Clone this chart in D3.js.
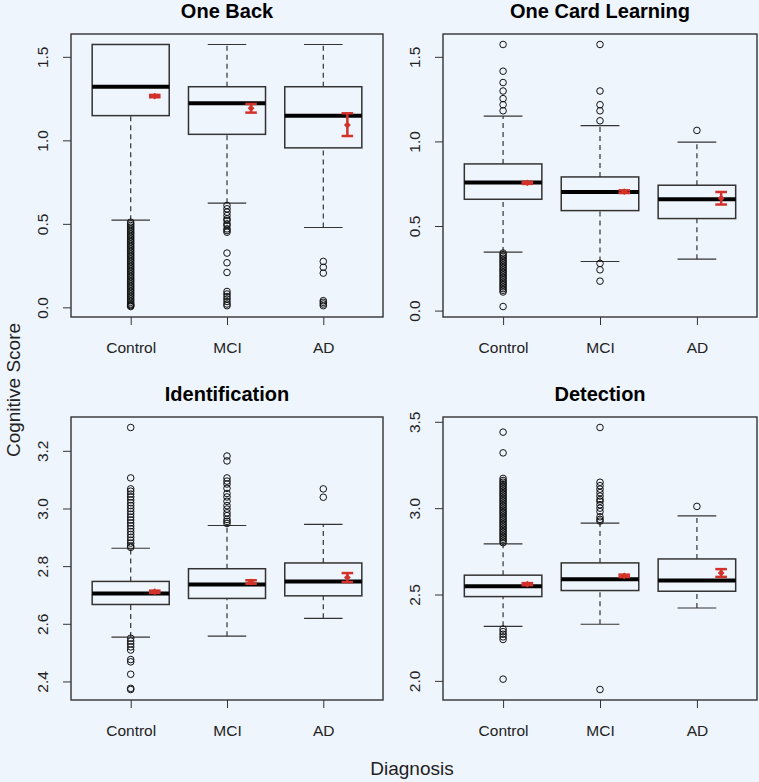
<!DOCTYPE html>
<html>
<head>
<meta charset="utf-8">
<script src="https://cdn.jsdelivr.net/npm/d3@7"></script>
<style>
  body { margin: 0; background: #eff5fd; }
  svg { display: block; font-family: "Liberation Sans", Arial, sans-serif; }
</style>
</head>
<body>
<svg id="chart" width="759" height="782"></svg>
<script>
// ---- data ----
const categories = ["Control", "MCI", "AD"];
const panelTitles = ["One Back", "One Card Learning", "Identification", "Detection"];

// five numbers per group: lower whisker, Q1, median, Q3, upper whisker
const oneBackStats = [[0.522, 1.148, 1.321, 1.574, 1.574], [0.624, 1.036, 1.222, 1.321, 1.574], [0.478, 0.955, 1.148, 1.321, 1.574]];
const oneBackMeans = [1.265, 1.192, 1.092];
const oneBackCI = [[1.258, 1.272], [1.166, 1.218], [1.026, 1.162]];
const oneBackOutliers = [
  [0.005, 0.01, 0.015, 0.02, 0.03, 0.04, 0.05, 0.06, 0.07, 0.08, 0.09, 0.10, 0.11, 0.12, 0.13, 0.14, 0.15, 0.16, 0.17, 0.18,
   0.19, 0.20, 0.21, 0.22, 0.23, 0.24, 0.25, 0.26, 0.27, 0.28, 0.29, 0.30, 0.31, 0.32, 0.33, 0.34, 0.35, 0.36, 0.37, 0.38,
   0.39, 0.40, 0.41, 0.42, 0.43, 0.44, 0.45, 0.46, 0.47, 0.48, 0.49, 0.50, 0.51],
  [0.61, 0.59, 0.57, 0.55, 0.53, 0.52, 0.50, 0.49, 0.47, 0.46, 0.45, 0.325, 0.267, 0.209, 0.095, 0.08, 0.065, 0.05, 0.035, 0.02, 0.01],
  [0.275, 0.24, 0.205, 0.04, 0.03, 0.02, 0.01]
];

const cardStats = [[0.346, 0.658, 0.757, 0.867, 1.150], [0.290, 0.591, 0.701, 0.790, 1.093], [0.304, 0.544, 0.658, 0.741, 0.996]];
const cardMeans = [0.755, 0.703, 0.664];
const cardCI = [[0.749, 0.761], [0.695, 0.711], [0.627, 0.701]];
const cardOutliers = [
  [1.573, 1.415, 1.348, 1.298, 1.253, 1.217, 1.181, 0.34, 0.33, 0.32, 0.31, 0.30, 0.29, 0.28, 0.27, 0.26, 0.25, 0.24, 0.23,
   0.22, 0.21, 0.20, 0.19, 0.18, 0.17, 0.16, 0.15, 0.14, 0.13, 0.12, 0.11, 0.024],
  [1.573, 1.298, 1.217, 1.181, 1.122, 0.279, 0.241, 0.174],
  [1.065]
];

const identStats = [[2.554, 2.667, 2.705, 2.747, 2.862], [2.557, 2.688, 2.736, 2.791, 2.941], [2.619, 2.697, 2.747, 2.811, 2.945]];
const identMeans = [2.711, 2.745, 2.761];
const identCI = [[2.707, 2.715], [2.739, 2.751], [2.745, 2.776]];
const identOutliers = [
  [3.281, 3.106, 3.068, 3.06, 3.05, 3.04, 3.03, 3.02, 3.01, 3.00, 2.99, 2.98, 2.97, 2.96, 2.95, 2.94, 2.93, 2.92, 2.91, 2.90,
   2.89, 2.88, 2.87, 2.865, 2.550, 2.54, 2.53, 2.52, 2.509, 2.476, 2.468, 2.425, 2.376, 2.372],
  [3.182, 3.165, 3.106, 3.095, 3.085, 3.07, 3.052, 3.04, 3.025, 3.01, 2.998, 2.985, 2.975, 2.962, 2.955, 2.948],
  [3.068, 3.039]
];

const detectStats = [[2.316, 2.488, 2.548, 2.612, 2.793], [2.328, 2.523, 2.589, 2.683, 2.913], [2.422, 2.519, 2.581, 2.706, 2.955]];
const detectMeans = [2.560, 2.608, 2.625];
const detectCI = [[2.554, 2.566], [2.601, 2.615], [2.602, 2.647]];
const detectOutliers = [
  [3.440, 3.320, 3.172, 3.16, 3.15, 3.14, 3.13, 3.12, 3.11, 3.10, 3.09, 3.08, 3.07, 3.06, 3.05, 3.04, 3.03, 3.02, 3.01, 3.00,
   2.99, 2.98, 2.97, 2.96, 2.95, 2.94, 2.93, 2.92, 2.91, 2.90, 2.89, 2.88, 2.87, 2.86, 2.85, 2.84, 2.83, 2.82, 2.81, 2.80,
   2.30, 2.285, 2.27, 2.255, 2.24, 2.010],
  [3.467, 3.15, 3.13, 3.11, 3.09, 3.07, 3.05, 3.04, 3.02, 3.00, 2.98, 2.95, 2.935, 2.925, 1.950],
  [3.010]
];

const yTicks = [[0, 0.5, 1.0, 1.5], [0, 0.5, 1.0, 1.5], [2.4, 2.6, 2.8, 3.0, 3.2], [2.0, 2.5, 3.0, 3.5]];

const panels = [
  { title: panelTitles[0], stats: oneBackStats, means: oneBackMeans, ci: oneBackCI, out: oneBackOutliers, ticks: yTicks[0] },
  { title: panelTitles[1], stats: cardStats, means: cardMeans, ci: cardCI, out: cardOutliers, ticks: yTicks[1] },
  { title: panelTitles[2], stats: identStats, means: identMeans, ci: identCI, out: identOutliers, ticks: yTicks[2] },
  { title: panelTitles[3], stats: detectStats, means: detectMeans, ci: detectCI, out: detectOutliers, ticks: yTicks[3] }
];

// ---- layout ----
const W = 759, H = 782;
const cols = [[71, 383], [443, 757]];
const rows = [[34, 317], [417, 700]];
const red = "#d2322a", ink = "#333";

const svg = d3.select("#chart");
svg.append("rect").attr("width", W).attr("height", H).attr("fill", "#eff5fd");

panels.forEach((p, i) => {
  const [x0, x1] = cols[i % 2];
  const [y0, y1] = rows[Math.floor(i / 2)];

  const x = d3.scaleLinear().domain([0.38, 3.62]).range([x0, x1]);
  // R style: data range padded 4% each side
  const all = p.stats.flat().concat(p.out.flat());
  const [lo, hi] = d3.extent(all);
  const pad = (hi - lo) * 0.04;
  const y = d3.scaleLinear().domain([lo - pad, hi + pad]).range([y1, y0]);

  const g = svg.append("g");

  // title
  g.append("text")
    .attr("x", (x0 + x1) / 2).attr("y", y0 - 16)
    .attr("text-anchor", "middle")
    .attr("font-size", 20).attr("font-weight", "bold")
    .text(p.title);

  // axes
  const ya = g.append("g").attr("transform", `translate(${x0},0)`)
    .call(d3.axisLeft(y).tickValues(p.ticks).tickFormat(d3.format(".1f")).tickSize(8).tickSizeOuter(0));
  ya.select(".domain").remove();
  ya.selectAll("line").attr("stroke", ink);
  ya.selectAll("text")
    .attr("transform", "rotate(-90)")
    .attr("x", 0).attr("y", -23).attr("dy", 0)
    .attr("text-anchor", "middle")
    .attr("font-size", 15.5).attr("font-family", null).attr("fill", "#222");

  const xa = g.append("g").attr("transform", `translate(0,${y1})`)
    .call(d3.axisBottom(x).tickValues([1, 2, 3]).tickFormat((d) => categories[d - 1]).tickSize(8).tickSizeOuter(0));
  xa.select(".domain").remove();
  xa.selectAll("line").attr("stroke", ink);
  xa.selectAll("text").attr("y", 25).attr("font-size", 15.5).attr("font-family", null).attr("fill", "#222");

  // boxes
  const bw = x(1.4) - x(1);
  const cw = x(1.2) - x(1);
  p.stats.forEach((s, k) => {
    const cx = x(k + 1);
    const [wl, q1, med, q3, wh] = s;
    const bg = g.append("g");
    // whiskers
    [[wl, q1], [q3, wh]].forEach(([a, b]) => {
      if (b - a <= 0) return;
      bg.append("line").attr("x1", cx).attr("x2", cx).attr("y1", y(a)).attr("y2", y(b))
        .attr("stroke", ink).attr("stroke-width", 1.2).attr("stroke-dasharray", "5,4");
    });
    [wl, wh].forEach((v) => {
      bg.append("line").attr("x1", cx - cw).attr("x2", cx + cw).attr("y1", y(v)).attr("y2", y(v))
        .attr("stroke", ink).attr("stroke-width", 1.2);
    });
    bg.append("rect")
      .attr("x", cx - bw).attr("width", 2 * bw)
      .attr("y", y(q3)).attr("height", y(q1) - y(q3))
      .attr("fill", "#eff5fd").attr("stroke", ink).attr("stroke-width", 1.5);
    bg.append("line").attr("x1", cx - bw).attr("x2", cx + bw).attr("y1", y(med)).attr("y2", y(med))
      .attr("stroke", "#000").attr("stroke-width", 4);

    // outliers
    bg.selectAll("circle.out").data(p.out[k]).join("circle")
      .attr("class", "out")
      .attr("cx", cx).attr("cy", (d) => y(d)).attr("r", 3.3)
      .attr("fill", "none").attr("stroke", "#111").attr("stroke-width", 1);

    // mean with confidence interval
    const mx = x(k + 1.25);
    const ew = x(1.06) - x(1);
    const [c0, c1] = p.ci[k];
    bg.append("line").attr("x1", mx).attr("x2", mx).attr("y1", y(c0)).attr("y2", y(c1))
      .attr("stroke", red).attr("stroke-width", 2.5);
    [c0, c1].forEach((v) => {
      bg.append("line").attr("x1", mx - ew).attr("x2", mx + ew).attr("y1", y(v)).attr("y2", y(v))
        .attr("stroke", red).attr("stroke-width", 2.5);
    });
    bg.append("path")
      .attr("d", d3.symbol(d3.symbolDiamond2, 30)())
      .attr("transform", `translate(${mx},${y(p.means[k])})`)
      .attr("fill", red);
  });

  // plot frame
  g.append("rect")
    .attr("x", x0).attr("y", y0).attr("width", x1 - x0).attr("height", y1 - y0)
    .attr("fill", "none").attr("stroke", ink).attr("stroke-width", 1.4);
});

// outer axis titles
svg.append("text")
  .attr("transform", "translate(20,390) rotate(-90)")
  .attr("text-anchor", "middle").attr("font-size", 19).attr("fill", "#222")
  .text("Cognitive Score");
svg.append("text")
  .attr("x", 412).attr("y", 775)
  .attr("text-anchor", "middle").attr("font-size", 19).attr("fill", "#222")
  .text("Diagnosis");
</script>
</body>
</html>
